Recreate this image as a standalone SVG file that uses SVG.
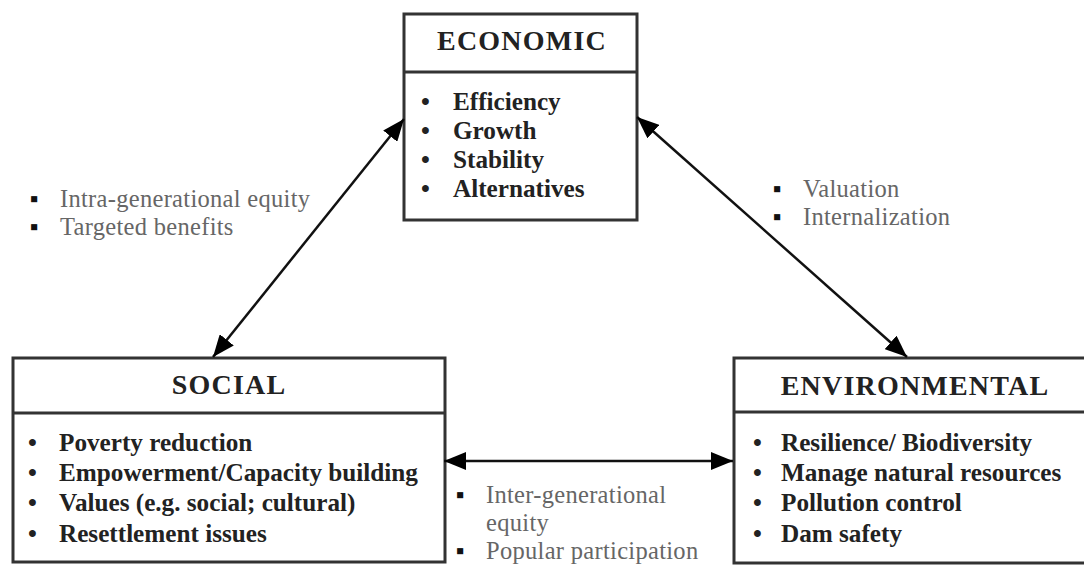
<svg xmlns="http://www.w3.org/2000/svg" width="1084" height="567" viewBox="0 0 1084 567">
  <defs>
    <marker id="ah" markerUnits="userSpaceOnUse" markerWidth="22" markerHeight="18" refX="22" refY="9" orient="auto-start-reverse">
      <path d="M0,0 L22,9 L0,18 z" fill="#000"/>
    </marker>
    <style>
      .box { fill: #fff; stroke: #333; stroke-width: 3; }
      .div { stroke: #333; stroke-width: 3; }
      .title { font-family: "Liberation Serif", "Times New Roman", serif; font-weight: bold; font-size: 28px; fill: #222; text-anchor: middle; letter-spacing: 1.2px; }
      .item { font-family: "Liberation Serif", "Times New Roman", serif; font-weight: bold; font-size: 25.2px; fill: #222; }
      .lbl { font-family: "Liberation Serif", "Times New Roman", serif; font-size: 24.5px; fill: #666; letter-spacing: 0.3px; }
      .bul { fill: #111; }
      .conn { stroke: #111; stroke-width: 2.5; fill: none; marker-start: url(#ah); marker-end: url(#ah); }
    </style>
  </defs>
  <rect width="1084" height="567" fill="#fff"/>

  <g id="economic">
    <rect class="box" x="404" y="14" width="233" height="206"/>
    <line class="div" x1="404" y1="72" x2="637" y2="72"/>
    <text class="title" x="522" y="50">ECONOMIC</text>
    <text class="item"><tspan x="421" y="110">•</tspan><tspan x="453" y="110">Efficiency</tspan></text>
    <text class="item"><tspan x="421" y="139">•</tspan><tspan x="453" y="139">Growth</tspan></text>
    <text class="item"><tspan x="421" y="168">•</tspan><tspan x="453" y="168">Stability</tspan></text>
    <text class="item"><tspan x="421" y="197">•</tspan><tspan x="453" y="197">Alternatives</tspan></text>
  </g>

  <g id="social">
    <rect class="box" x="13" y="358" width="432" height="204"/>
    <line class="div" x1="13" y1="413" x2="445" y2="413"/>
    <text class="title" x="229" y="394">SOCIAL</text>
    <text class="item"><tspan x="28" y="451">•</tspan><tspan x="59" y="451">Poverty reduction</tspan></text>
    <text class="item"><tspan x="28" y="481">•</tspan><tspan x="59" y="481">Empowerment/Capacity building</tspan></text>
    <text class="item"><tspan x="28" y="511">•</tspan><tspan x="59" y="511">Values (e.g. social; cultural)</tspan></text>
    <text class="item"><tspan x="28" y="542">•</tspan><tspan x="59" y="542">Resettlement issues</tspan></text>
  </g>

  <g id="environmental">
    <rect class="box" x="734" y="358" width="362" height="205"/>
    <line class="div" x1="734" y1="412" x2="1096" y2="412"/>
    <text class="title" x="915" y="395">ENVIRONMENTAL</text>
    <text class="item"><tspan x="753" y="451">•</tspan><tspan x="781" y="451">Resilience/ Biodiversity</tspan></text>
    <text class="item"><tspan x="753" y="481">•</tspan><tspan x="781" y="481">Manage natural resources</tspan></text>
    <text class="item"><tspan x="753" y="511">•</tspan><tspan x="781" y="511">Pollution control</tspan></text>
    <text class="item"><tspan x="753" y="542">•</tspan><tspan x="781" y="542">Dam safety</tspan></text>
  </g>

  <g id="connectors">
    <path class="conn" d="M404,119 L213,357"/>
    <path class="conn" d="M637,117 L907,357"/>
    <path class="conn" d="M444,461 L733,461"/>
  </g>

  <g id="label-econ-social">
    <text class="lbl"><tspan class="bul" x="30" y="207">▪</tspan><tspan x="60" y="207">Intra-generational equity</tspan></text>
    <text class="lbl"><tspan class="bul" x="30" y="235">▪</tspan><tspan x="60" y="235">Targeted benefits</tspan></text>
  </g>
  <g id="label-econ-env">
    <text class="lbl"><tspan class="bul" x="773" y="197">▪</tspan><tspan x="803" y="197">Valuation</tspan></text>
    <text class="lbl"><tspan class="bul" x="773" y="225">▪</tspan><tspan x="803" y="225">Internalization</tspan></text>
  </g>
  <g id="label-social-env">
    <text class="lbl"><tspan class="bul" x="456" y="503">▪</tspan><tspan x="486" y="503">Inter-generational</tspan></text>
    <text class="lbl"><tspan x="486" y="531">equity</tspan></text>
    <text class="lbl"><tspan class="bul" x="456" y="559">▪</tspan><tspan x="486" y="559">Popular participation</tspan></text>
  </g>
</svg>
